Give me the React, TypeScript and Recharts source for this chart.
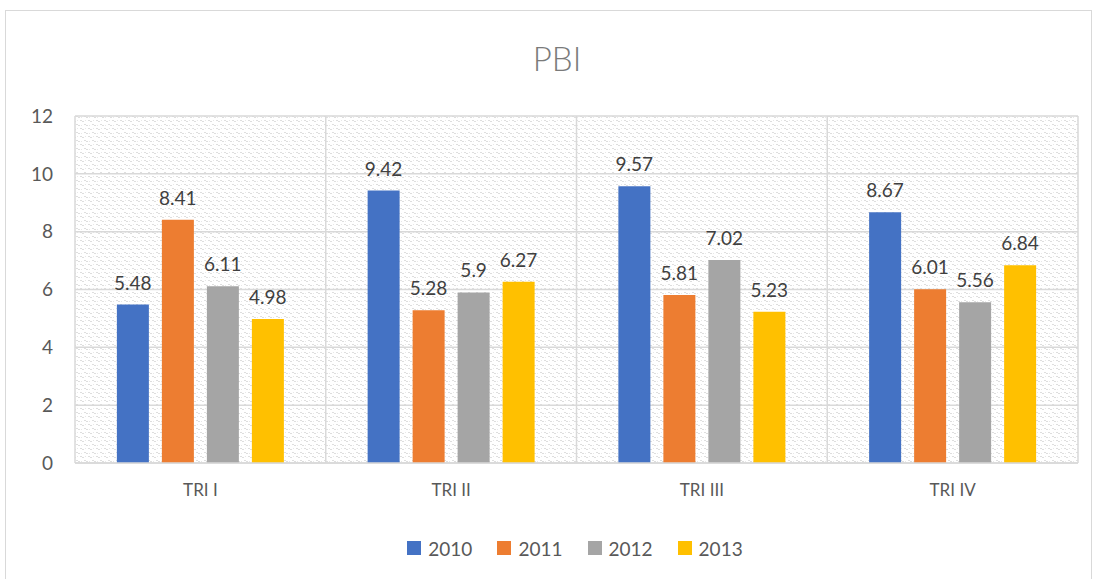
import { BarChart, Bar, XAxis, YAxis, CartesianGrid, Legend, LabelList } from "recharts"

const quarters = ["TRI I", "TRI II", "TRI III", "TRI IV"]
const years = ["2010", "2011", "2012", "2013"]
const v2010 = [5.48, 9.42, 9.57, 8.67]
const v2011 = [8.41, 5.28, 5.81, 6.01]
const v2012 = [6.11, 5.9, 7.02, 5.56]
const v2013 = [4.98, 6.27, 5.23, 6.84]
const yTicks = [0, 2, 4, 6, 8, 10, 12]

const COLORS = ["#4472C4", "#ED7D31", "#A5A5A5", "#FFC000"]
const FONT = "Lato, 'Open Sans', sans-serif"

const series = [v2010, v2011, v2012, v2013]
const data = quarters.map((q, i) => {
  const row: Record<string, string | number> = { name: q }
  years.forEach((y, j) => {
    row[y] = series[j][i]
  })
  return row
})

function LegendBox() {
  return (
    <div
      style={{
        display: "flex",
        justifyContent: "center",
        gap: 25,
        height: 30,
        alignItems: "center",
        fontFamily: FONT,
        marginLeft: 72,
      }}
    >
      {years.map((y, i) => (
        <div key={y} style={{ display: "flex", alignItems: "center", gap: 7 }}>
          <span style={{ width: 14, height: 14, background: COLORS[i], display: "inline-block" }} />
          <span style={{ fontSize: 19, color: "#595959" }}>{y}</span>
        </div>
      ))}
    </div>
  )
}

export default function App() {
  return (
    <div style={{ position: "absolute", left: 0, top: 0, width: 1096, height: 579, background: "#fff", overflow: "hidden", fontFamily: FONT }}>
      <div style={{ position: "absolute", left: 5, top: 10, width: 1085, height: 600, border: "1px solid #d9d9d9" }} />
      <div
        style={{
          position: "absolute",
          left: 0,
          top: 38,
          width: 1114,
          textAlign: "center",
          fontSize: 33,
          fontWeight: 300,
          color: "#7a7a7a",
        }}
      >
        PBI
      </div>
      <div style={{ position: "absolute", left: 0, top: 0 }}>
        <BarChart
          width={1096}
          height={579}
          data={data}
          margin={{ top: 116, right: 18, bottom: 16, left: 0 }}
          barCategoryGap="16.7%"
          barGap={13}
        >
          <defs>
            <pattern id="weave" width="8" height="8" patternUnits="userSpaceOnUse">
              <rect width="8" height="8" fill="#ffffff" />
              <rect x="0" y="0" width="2" height="1" fill="#dedede" />
              <rect x="2" y="1" width="2" height="1" fill="#dedede" />
              <rect x="4" y="4" width="2" height="1" fill="#dedede" />
              <rect x="6" y="5" width="2" height="1" fill="#dedede" />
              <rect x="5" y="0" width="1" height="1" fill="#e8e8e8" />
              <rect x="1" y="5" width="1" height="1" fill="#e8e8e8" />
            </pattern>
          </defs>
          <CartesianGrid
            fill="url(#weave)"
            stroke="#d9d9d9"
            strokeWidth={1.5}
            verticalCoordinatesGenerator={({ offset }: any) =>
              [0, 1, 2, 3, 4].map((i) => offset.left + (i * offset.width) / 4)
            }
          />
          <XAxis
            dataKey="name"
            height={70}
            tickLine={false}
            axisLine={{ stroke: "#d9d9d9", strokeWidth: 1.5 }}
            tickMargin={15}
            tick={{ fontSize: 17, fill: "#595959", fontFamily: FONT }}
          />
          <YAxis
            width={75}
            domain={[0, 12]}
            ticks={yTicks}
            tickLine={false}
            axisLine={false}
            tickMargin={16}
            tick={{ fontSize: 19, fill: "#595959", fontFamily: FONT }}
          />
          <Legend verticalAlign="bottom" content={() => <LegendBox />} />
          {years.map((y, i) => (
            <Bar key={y} dataKey={y} fill={COLORS[i]} isAnimationActive={false}>
              <LabelList
                dataKey={y}
                position="top"
                offset={15}
                style={{ fontSize: 19, fill: "#404040", fontFamily: FONT }}
              />
            </Bar>
          ))}
        </BarChart>
      </div>
    </div>
  )
}
